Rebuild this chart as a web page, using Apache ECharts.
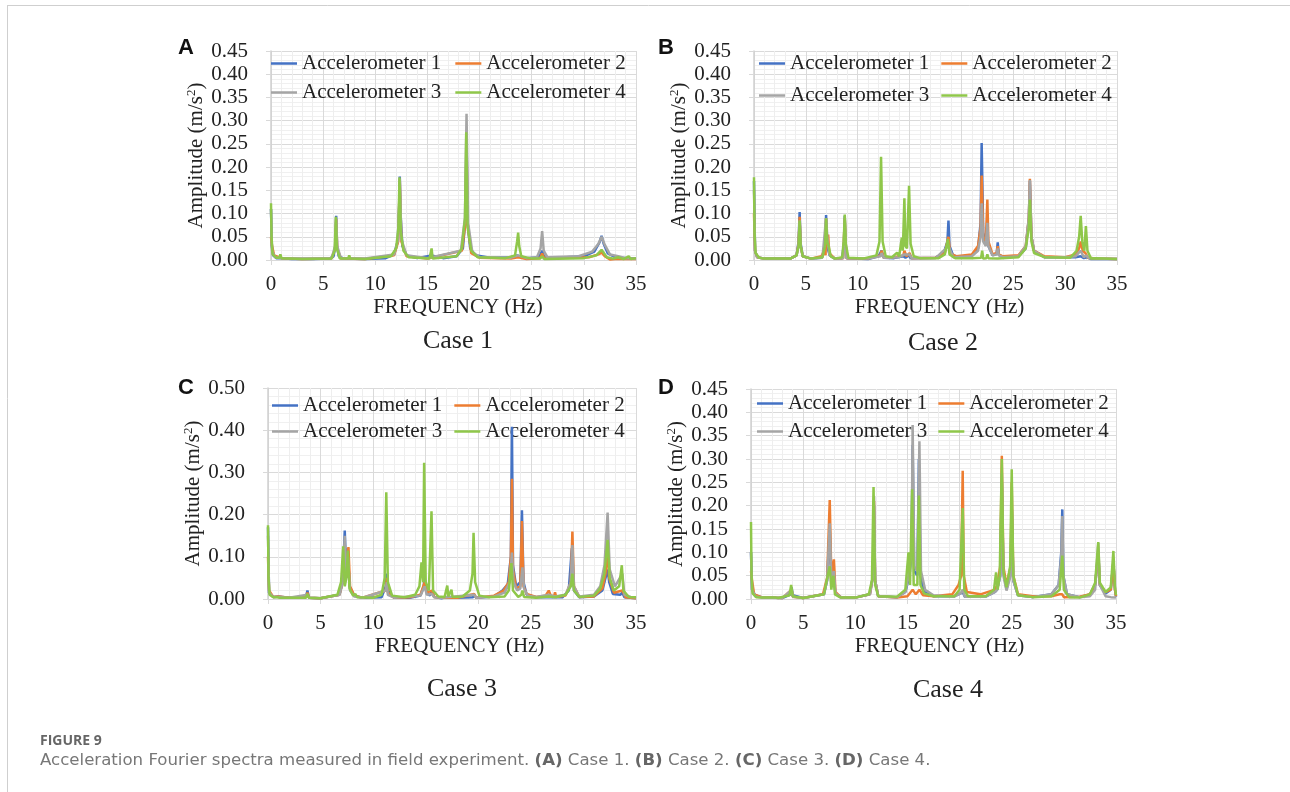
<!DOCTYPE html>
<html><head><meta charset="utf-8">
<script src="https://cdn.jsdelivr.net/npm/echarts@6/dist/echarts.min.js"></script>
<style>html,body{margin:0;padding:0;background:#fff}#c{width:1290px;height:792px}</style>
</head><body><div id="c"></div><script>
// ---------- data ----------
const seriesNames = ['Accelerometer 1', 'Accelerometer 2', 'Accelerometer 3', 'Accelerometer 4'];
const panelLabels = ['A', 'B', 'C', 'D'];
const caseTitles = ['Case 1', 'Case 2', 'Case 3', 'Case 4'];
const xTicks = [0, 5, 10, 15, 20, 25, 30, 35];
const yMaxes = [0.45, 0.45, 0.50, 0.45];
const yIntervals = [0.05, 0.05, 0.10, 0.05];

// Case 1
const a1 = [[0,0.11],[0.08,0.03],[0.2,0.01],[0.5,0.004],[1.0,0.004],[2,0.002],[4,0.002],[5.6,0.003],[6.0,0.008],[6.17,0.03],[6.25,0.095],[6.33,0.03],[6.5,0.008],[7,0.003],[9,0.002],[11,0.004],[11.8,0.012],[12.15,0.04],[12.3,0.12],[12.35,0.18],[12.42,0.1],[12.6,0.03],[13,0.01],[14,0.004],[15.4,0.01],[16.5,0.004],[17.8,0.008],[18.4,0.025],[18.65,0.09],[18.75,0.27],[18.85,0.08],[19.1,0.025],[19.6,0.01],[21,0.005],[23,0.006],[23.6,0.01],[23.7,0.012],[23.8,0.008],[24.5,0.004],[25.7,0.006],[26.0,0.02],[26.2,0.006],[27.5,0.005],[30,0.008],[31.0,0.018],[31.5,0.038],[31.7,0.052],[31.9,0.035],[32.3,0.014],[33,0.006],[33.3,0.005],[35,0.003]];
const a2 = [[0,0.05],[0.1,0.03],[0.3,0.01],[1,0.004],[3,0.002],[5.8,0.003],[6.15,0.025],[6.25,0.088],[6.35,0.025],[6.7,0.003],[9,0.002],[11.8,0.01],[12.2,0.04],[12.35,0.17],[12.5,0.04],[13,0.008],[15,0.003],[18.3,0.02],[18.65,0.08],[18.75,0.26],[18.85,0.08],[19.2,0.015],[20,0.005],[23,0.003],[23.7,0.006],[24.5,0.002],[25.8,0.004],[26.0,0.014],[26.2,0.004],[30.5,0.006],[31.4,0.012],[31.7,0.016],[32,0.008],[32.5,0.001],[33,0.002],[35,0.002]];
const a3 = [[0,0.11],[0.1,0.02],[0.4,0.006],[1,0.004],[3,0.003],[5.8,0.003],[6.15,0.03],[6.25,0.09],[6.35,0.03],[6.7,0.004],[9,0.003],[11.8,0.012],[12.2,0.045],[12.35,0.175],[12.5,0.045],[13,0.01],[15,0.004],[18.2,0.02],[18.6,0.09],[18.75,0.315],[18.9,0.08],[19.3,0.018],[20,0.006],[23,0.005],[23.7,0.01],[24.5,0.004],[25.5,0.006],[25.85,0.025],[26.0,0.062],[26.15,0.02],[26.5,0.006],[29.5,0.008],[30.8,0.018],[31.4,0.035],[31.7,0.05],[32,0.033],[32.5,0.012],[33.3,0.008],[34,0.004],[35,0.003]];
const a4 = [[0,0.122],[0.05,0.05],[0.15,0.012],[0.5,0.005],[0.8,0.005],[0.9,0.012],[1.0,0.004],[1.5,0.003],[1.6,0.007],[1.7,0.003],[3,0.002],[5.8,0.003],[6.1,0.02],[6.22,0.093],[6.32,0.025],[6.6,0.003],[7.4,0.003],[7.5,0.01],[7.6,0.003],[9,0.002],[11.5,0.008],[12.0,0.025],[12.22,0.07],[12.32,0.178],[12.45,0.06],[12.7,0.02],[13.2,0.006],[15.2,0.003],[15.4,0.025],[15.5,0.003],[17.8,0.008],[18.3,0.025],[18.6,0.09],[18.72,0.275],[18.85,0.07],[19.2,0.02],[19.8,0.006],[22.5,0.004],[23.4,0.01],[23.6,0.04],[23.7,0.059],[23.8,0.03],[24.0,0.008],[25,0.003],[25.8,0.003],[26.0,0.008],[26.2,0.002],[30,0.004],[31.2,0.01],[31.7,0.022],[32.2,0.006],[32.8,0.003],[33.3,0.006],[33.8,0.002],[34.3,0.008],[34.5,0.002],[35,0.004]];

// Case 2
const b1 = [[0,0.17],[0.1,0.02],[0.3,0.006],[1,0.003],[3.5,0.003],[4.1,0.01],[4.3,0.04],[4.4,0.103],[4.5,0.035],[4.7,0.008],[5.5,0.003],[6.5,0.005],[6.85,0.02],[6.95,0.097],[7.05,0.03],[7.3,0.01],[7.8,0.003],[8.5,0.004],[8.7,0.04],[8.75,0.095],[8.8,0.04],[9,0.004],[11,0.002],[12,0.008],[12.3,0.02],[12.5,0.005],[13.5,0.004],[14.4,0.008],[14.5,0.012],[14.6,0.005],[14.95,0.01],[15.1,0.004],[17.5,0.005],[18.3,0.015],[18.65,0.04],[18.75,0.085],[18.85,0.03],[19.2,0.01],[20,0.006],[21,0.01],[21.6,0.025],[21.85,0.08],[21.95,0.252],[22.1,0.06],[22.3,0.035],[22.5,0.06],[22.6,0.03],[23,0.01],[23.4,0.015],[23.5,0.038],[23.6,0.012],[24,0.006],[25.5,0.008],[26.2,0.025],[26.5,0.09],[26.6,0.17],[26.75,0.05],[27,0.02],[28,0.006],[29,0.006],[31,0.006],[31.5,0.008],[31.8,0.004],[32.1,0.006],[32.5,0.002],[35,0.002]];
const b2 = [[0,0.1],[0.1,0.02],[0.3,0.006],[1,0.003],[3.5,0.003],[4.1,0.01],[4.3,0.035],[4.4,0.093],[4.5,0.03],[4.7,0.008],[5.5,0.003],[6.5,0.008],[6.8,0.022],[6.9,0.01],[6.95,0.09],[7.05,0.03],[7.15,0.055],[7.25,0.015],[7.8,0.003],[8.6,0.004],[8.75,0.09],[8.9,0.004],[11,0.003],[12.2,0.01],[12.3,0.02],[12.5,0.005],[13.5,0.006],[14.4,0.01],[14.5,0.02],[14.7,0.008],[15,0.015],[15.2,0.004],[17.5,0.005],[18.4,0.015],[18.75,0.05],[18.9,0.015],[19.5,0.008],[21,0.012],[21.6,0.03],[21.85,0.07],[21.95,0.182],[22.1,0.05],[22.35,0.04],[22.5,0.13],[22.6,0.04],[23,0.012],[23.4,0.015],[23.5,0.03],[23.6,0.012],[24,0.008],[25.5,0.01],[26.2,0.03],[26.5,0.09],[26.6,0.175],[26.75,0.05],[27,0.02],[28,0.008],[30,0.006],[31,0.012],[31.35,0.025],[31.5,0.04],[31.7,0.02],[31.95,0.015],[32.2,0.005],[33,0.003],[35,0.002]];
const b3 = [[0,0.15],[0.1,0.02],[0.3,0.006],[1,0.003],[3.5,0.003],[4.1,0.01],[4.3,0.03],[4.4,0.085],[4.5,0.03],[4.7,0.008],[5.5,0.003],[6.6,0.005],[6.95,0.09],[7.1,0.04],[7.3,0.01],[7.8,0.003],[8.6,0.004],[8.75,0.09],[8.9,0.004],[11,0.003],[12.2,0.008],[12.3,0.015],[12.5,0.005],[14,0.006],[14.5,0.012],[15,0.012],[15.2,0.004],[17.5,0.004],[18.75,0.03],[19.2,0.006],[21,0.008],[21.6,0.02],[21.85,0.05],[21.95,0.122],[22.1,0.04],[22.35,0.03],[22.5,0.08],[22.6,0.03],[23,0.01],[23.4,0.012],[23.5,0.025],[23.6,0.01],[24,0.006],[25.5,0.008],[26.2,0.03],[26.5,0.09],[26.6,0.172],[26.75,0.05],[27,0.02],[28,0.006],[30,0.006],[31,0.008],[31.5,0.02],[31.8,0.006],[32,0.01],[32.3,0.004],[35,0.002]];
const b4 = [[0,0.178],[0.05,0.06],[0.15,0.015],[0.5,0.005],[1,0.003],[3.5,0.003],[4.1,0.01],[4.3,0.03],[4.4,0.085],[4.5,0.03],[4.7,0.008],[5.5,0.003],[6.6,0.006],[6.85,0.03],[6.95,0.09],[7.05,0.04],[7.2,0.03],[7.4,0.008],[7.8,0.003],[8.5,0.006],[8.65,0.04],[8.75,0.098],[8.85,0.035],[9.1,0.005],[10.5,0.003],[11.8,0.01],[12.1,0.04],[12.25,0.222],[12.4,0.04],[12.7,0.008],[13.3,0.006],[13.8,0.016],[14.0,0.008],[14.25,0.048],[14.35,0.02],[14.5,0.133],[14.6,0.03],[14.75,0.025],[14.95,0.16],[15.1,0.035],[15.4,0.008],[16,0.004],[17.8,0.004],[18.4,0.012],[18.7,0.045],[18.85,0.012],[19.4,0.004],[21,0.004],[21.9,0.005],[22.0,0.02],[22.1,0.003],[22.4,0.004],[22.5,0.012],[22.6,0.004],[23.5,0.003],[25.5,0.006],[26.2,0.025],[26.5,0.07],[26.6,0.13],[26.75,0.04],[27,0.015],[28,0.006],[30.5,0.005],[31.1,0.02],[31.35,0.05],[31.5,0.095],[31.65,0.04],[31.85,0.02],[32.0,0.073],[32.15,0.02],[32.5,0.003],[33,0.004],[35,0.002]];

// Case 3
const c1 = [[0,0.17],[0.1,0.015],[0.5,0.005],[1,0.006],[2,0.003],[3.6,0.004],[3.75,0.02],[3.9,0.003],[5,0.002],[6.8,0.01],[7.1,0.04],[7.3,0.162],[7.45,0.05],[7.6,0.12],[7.75,0.03],[8.2,0.008],[9,0.003],[10.8,0.004],[11.2,0.03],[11.3,0.06],[11.4,0.02],[12,0.003],[13.5,0.003],[14.5,0.008],[14.8,0.03],[14.9,0.05],[15.1,0.015],[15.4,0.008],[15.6,0.02],[15.8,0.005],[16.5,0.002],[17.1,0.005],[18,0.003],[19.5,0.004],[19.6,0.01],[19.8,0.003],[21.5,0.006],[22.3,0.02],[22.8,0.035],[23.1,0.1],[23.2,0.408],[23.3,0.08],[23.6,0.03],[24.0,0.04],[24.15,0.21],[24.3,0.04],[24.6,0.01],[25.5,0.004],[26.7,0.005],[28,0.004],[28.6,0.02],[28.9,0.12],[29.1,0.02],[29.6,0.004],[31,0.006],[31.8,0.02],[32.2,0.06],[32.3,0.07],[32.45,0.04],[32.8,0.012],[33.5,0.01],[33.7,0.015],[33.9,0.004],[35,0.002]];
const c2 = [[0,0.1],[0.1,0.02],[0.5,0.005],[1,0.006],[2,0.003],[3.6,0.004],[3.75,0.015],[3.9,0.003],[5,0.002],[6.8,0.01],[7.1,0.04],[7.3,0.13],[7.45,0.05],[7.65,0.123],[7.8,0.03],[8.2,0.008],[9,0.003],[11.2,0.02],[11.3,0.05],[11.4,0.015],[12,0.003],[13.5,0.004],[14.5,0.01],[14.9,0.04],[15.1,0.015],[15.6,0.02],[15.8,0.005],[16.5,0.003],[18,0.003],[19.6,0.012],[19.8,0.003],[21.5,0.008],[22.4,0.02],[22.9,0.04],[23.1,0.1],[23.2,0.285],[23.3,0.07],[23.6,0.025],[24.0,0.03],[24.15,0.185],[24.3,0.03],[24.6,0.012],[25.5,0.005],[26.4,0.008],[26.7,0.02],[26.9,0.008],[27.2,0.006],[27.3,0.016],[27.4,0.005],[28.3,0.008],[28.8,0.04],[28.95,0.16],[29.1,0.03],[29.6,0.005],[31,0.006],[31.8,0.025],[32.1,0.06],[32.3,0.12],[32.45,0.05],[32.9,0.015],[33.7,0.02],[34,0.004],[35,0.002]];
const c3 = [[0,0.15],[0.1,0.015],[0.5,0.005],[1,0.005],[2,0.003],[3.75,0.01],[3.9,0.003],[5,0.002],[6.8,0.01],[7.1,0.04],[7.3,0.15],[7.45,0.05],[7.6,0.1],[7.8,0.02],[8.2,0.006],[9,0.003],[11.2,0.02],[11.3,0.04],[11.4,0.01],[12,0.003],[14.5,0.008],[14.9,0.03],[15.1,0.01],[15.6,0.012],[15.8,0.004],[16.5,0.003],[19.6,0.01],[19.8,0.003],[21.5,0.006],[22.5,0.015],[23.0,0.04],[23.2,0.11],[23.35,0.04],[23.7,0.02],[24.0,0.025],[24.2,0.075],[24.35,0.025],[24.7,0.008],[25.5,0.005],[26.7,0.01],[27.3,0.006],[28.3,0.01],[28.8,0.04],[28.95,0.128],[29.1,0.03],[29.6,0.006],[31,0.01],[31.6,0.03],[32.0,0.08],[32.3,0.205],[32.5,0.07],[33,0.03],[33.7,0.06],[33.9,0.01],[34.5,0.005],[35,0.004]];
const c4 = [[0,0.175],[0.05,0.05],[0.15,0.01],[0.5,0.004],[0.9,0.004],[1.0,0.008],[1.1,0.003],[2,0.003],[3.6,0.003],[3.75,0.012],[3.9,0.003],[5,0.002],[6.6,0.01],[6.95,0.04],[7.15,0.125],[7.3,0.03],[7.45,0.05],[7.6,0.115],[7.75,0.025],[8.1,0.008],[8.3,0.012],[8.5,0.004],[10,0.003],[10.8,0.01],[11.1,0.05],[11.25,0.253],[11.4,0.04],[11.8,0.008],[13,0.004],[14.0,0.01],[14.4,0.03],[14.6,0.087],[14.75,0.04],[14.85,0.323],[15.0,0.04],[15.3,0.02],[15.55,0.208],[15.7,0.02],[16.2,0.006],[16.8,0.005],[17.05,0.032],[17.15,0.006],[17.3,0.005],[17.45,0.022],[17.55,0.005],[18.5,0.006],[19.2,0.02],[19.45,0.06],[19.55,0.157],[19.7,0.04],[20.1,0.008],[21,0.004],[22.5,0.006],[22.9,0.02],[23.15,0.085],[23.3,0.02],[23.8,0.005],[24.1,0.01],[24.2,0.02],[24.35,0.005],[25.5,0.003],[26.7,0.006],[27.3,0.004],[28.3,0.01],[28.8,0.03],[28.95,0.06],[29.1,0.02],[29.6,0.005],[31,0.008],[31.6,0.025],[32.0,0.06],[32.3,0.14],[32.5,0.05],[32.9,0.02],[33.4,0.03],[33.65,0.08],[33.8,0.02],[34.3,0.005],[35,0.004]];

// Case 4
const d1 = [[0,0.1],[0.1,0.02],[0.4,0.008],[1,0.004],[3,0.002],[3.8,0.01],[3.9,0.025],[4.0,0.008],[5,0.002],[7.0,0.01],[7.3,0.04],[7.55,0.15],[7.7,0.04],[7.9,0.05],[8.1,0.012],[8.6,0.004],[10,0.003],[11.4,0.01],[11.7,0.05],[11.8,0.2],[11.9,0.04],[12.2,0.006],[14,0.004],[14.8,0.015],[15.2,0.05],[15.4,0.1],[15.5,0.33],[15.65,0.06],[15.95,0.05],[16.1,0.3],[16.25,0.05],[16.6,0.015],[17.5,0.006],[19.5,0.006],[20.1,0.012],[20.3,0.015],[20.5,0.005],[22.5,0.005],[23.4,0.015],[23.6,0.02],[23.9,0.05],[24.05,0.25],[24.2,0.06],[24.5,0.02],[24.9,0.06],[25.0,0.2],[25.15,0.04],[25.6,0.008],[27,0.004],[28.8,0.01],[29.5,0.03],[29.75,0.1],[29.85,0.192],[29.95,0.05],[30.3,0.01],[31.5,0.004],[32.5,0.01],[33.0,0.03],[33.3,0.1],[33.45,0.03],[34,0.012],[34.5,0.02],[34.75,0.08],[34.9,0.02],[35,0.005]];
const d2 = [[0,0.06],[0.1,0.04],[0.3,0.01],[1,0.004],[3,0.002],[3.9,0.02],[4.0,0.005],[5,0.002],[6.9,0.01],[7.3,0.045],[7.55,0.212],[7.7,0.05],[7.95,0.085],[8.1,0.015],[8.6,0.004],[10,0.003],[11.4,0.01],[11.7,0.05],[11.8,0.21],[11.9,0.04],[12.2,0.006],[14,0.003],[15.0,0.006],[15.5,0.02],[15.8,0.01],[16.15,0.02],[16.5,0.008],[17.5,0.006],[19.3,0.01],[19.9,0.03],[20.15,0.05],[20.3,0.275],[20.4,0.05],[20.7,0.015],[22,0.01],[23.4,0.02],[23.6,0.03],[23.9,0.07],[24.05,0.307],[24.2,0.07],[24.5,0.03],[24.9,0.07],[25.0,0.25],[25.15,0.05],[25.6,0.01],[27,0.006],[28.8,0.006],[29.6,0.01],[29.85,0.01],[30,0.004],[31.5,0.005],[32.5,0.01],[33.0,0.03],[33.3,0.1],[33.45,0.03],[34,0.015],[34.5,0.02],[34.75,0.08],[34.9,0.02],[35,0.006]];
const d3 = [[0,0.1],[0.1,0.02],[0.4,0.006],[1,0.003],[3,0.002],[3.9,0.02],[4.0,0.005],[5,0.002],[7.0,0.01],[7.3,0.04],[7.55,0.162],[7.7,0.04],[7.95,0.06],[8.1,0.012],[8.6,0.004],[10,0.003],[11.4,0.01],[11.7,0.05],[11.8,0.22],[11.9,0.04],[12.2,0.006],[14,0.004],[14.8,0.015],[15.2,0.06],[15.4,0.1],[15.5,0.373],[15.65,0.07],[15.95,0.06],[16.15,0.338],[16.3,0.06],[16.7,0.02],[17.5,0.008],[19.5,0.005],[20.1,0.012],[20.3,0.02],[20.5,0.005],[22.5,0.005],[23.4,0.015],[23.6,0.02],[23.9,0.05],[24.05,0.27],[24.2,0.05],[24.5,0.018],[24.9,0.05],[25.0,0.2],[25.15,0.04],[25.6,0.008],[27,0.004],[28.8,0.01],[29.5,0.03],[29.75,0.09],[29.85,0.178],[29.95,0.05],[30.3,0.01],[31.5,0.004],[32.5,0.006],[33.0,0.02],[33.3,0.12],[33.45,0.03],[34,0.006],[34.5,0.004],[35,0.003]];
const d4 = [[0,0.165],[0.05,0.05],[0.15,0.012],[0.5,0.004],[1,0.003],[2.4,0.003],[2.5,0.006],[2.6,0.002],[3.7,0.008],[3.85,0.03],[4.0,0.006],[5,0.002],[7.0,0.01],[7.35,0.05],[7.55,0.07],[7.7,0.02],[7.9,0.05],[8.05,0.01],[8.6,0.003],[10,0.003],[11.3,0.01],[11.6,0.04],[11.75,0.24],[11.9,0.03],[12.2,0.006],[14,0.005],[14.8,0.02],[15.1,0.1],[15.25,0.03],[15.45,0.235],[15.6,0.03],[15.95,0.03],[16.1,0.222],[16.25,0.03],[16.6,0.012],[17.5,0.006],[19.5,0.006],[20.0,0.02],[20.3,0.195],[20.45,0.02],[20.8,0.006],[22.5,0.006],[23.3,0.02],[23.5,0.057],[23.65,0.02],[23.85,0.05],[24.05,0.3],[24.2,0.06],[24.5,0.025],[24.85,0.07],[25.0,0.278],[25.15,0.05],[25.6,0.008],[27,0.004],[28.8,0.006],[29.6,0.02],[29.85,0.093],[30.0,0.02],[30.5,0.004],[31.5,0.003],[32.5,0.01],[33.0,0.035],[33.3,0.122],[33.45,0.035],[34,0.015],[34.5,0.025],[34.75,0.103],[34.9,0.025],[35,0.008]];

const panels = [[a1,a2,a3,a4],[b1,b2,b3,b4],[c1,c2,c3,c4],[d1,d2,d3,d4]];

// ---------- styles / layout ----------
const colors = ['#4472C4', '#ED7D31', '#A5A5A5', '#8FC74A'];
const SERIF = '"Liberation Serif","Times New Roman",serif';
const gridBoxes = [
  {left: 271, top: 51, width: 365, height: 209},
  {left: 754, top: 51, width: 363, height: 209},
  {left: 268, top: 388, width: 368, height: 211},
  {left: 751, top: 389, width: 365, height: 210}
];
const xNamePad = [9, 8, 15, 12];
const legendPos = [
  {left: 271, rows: [53, 82], gap: 14},
  {left: 759, rows: [53, 85], gap: 12},
  {left: 272, rows: [395, 421], gap: 12},
  {left: 757, rows: [393, 421], gap: 11}
];
const panelLabelPos = [[186, 48], [666, 48], [186, 388], [666, 388]];
const casePos = [[458, 341], [943, 343], [462, 689], [948, 690]];

const grid = [], xAxis = [], yAxis = [], series = [], legend = [], graphic = [];
panels.forEach((pdata, p) => {
  grid.push(Object.assign({outerBoundsMode: 'none', containLabel: false}, gridBoxes[p]));
  xAxis.push({
    type: 'value', gridIndex: p, min: xTicks[0], max: xTicks[xTicks.length - 1], interval: 5,
    axisLine: {show: true, onZero: false, lineStyle: {color: '#d9d9d9', width: 1}},
    axisTick: {show: true, length: 5, lineStyle: {color: '#d9d9d9'}},
    axisLabel: {color: '#222', fontFamily: SERIF, fontSize: 21, margin: 14},
    splitLine: {show: true, lineStyle: {color: '#dadada', width: 1}},
    minorTick: {show: false, splitNumber: 5},
    minorSplitLine: {show: true, lineStyle: {color: '#eeeeee', width: 1}},
    name: 'FREQUENCY (Hz)', nameLocation: 'middle', nameGap: 37,
    nameTextStyle: {color: '#222', fontFamily: SERIF, fontSize: 21, padding: [0, 0, 0, xNamePad[p]]}
  });
  yAxis.push({
    type: 'value', gridIndex: p, min: 0, max: yMaxes[p], interval: yIntervals[p],
    axisLine: {show: true, lineStyle: {color: '#d0d0d0', width: 1.5}},
    axisTick: {show: true, length: 5, lineStyle: {color: '#d9d9d9'}},
    axisLabel: {color: '#222', fontFamily: SERIF, fontSize: 21, margin: 23,
      formatter: v => v.toFixed(2)},
    splitLine: {show: true, lineStyle: {color: '#dadada', width: 1}},
    minorTick: {show: false, splitNumber: 5},
    minorSplitLine: {show: true, lineStyle: {color: '#f0f0f0', width: 1}},
    name: 'Amplitude (m/s{sup|2})', nameLocation: 'middle', nameGap: 64,
    nameTextStyle: {color: '#222', fontFamily: SERIF, fontSize: 21,
      rich: {sup: {fontFamily: SERIF, fontSize: 13, color: '#222', verticalAlign: 'top', padding: [0, 0, 9, 0]}}}
  });
  pdata.forEach((d, s) => {
    series.push({
      type: 'line', name: seriesNames[s], xAxisIndex: p, yAxisIndex: p, data: d,
      symbol: 'none', showSymbol: false, smooth: false, animation: false, z: 3,
      lineStyle: {color: colors[s], width: 2.5}, itemStyle: {color: colors[s]}
    });
  });
  const lp = legendPos[p];
  [[0, 1], [2, 3]].forEach((pair, r) => {
    legend.push({
      left: lp.left, top: lp.rows[r], orient: 'horizontal', padding: 0, z: 1,
      icon: 'rect', itemWidth: 26, itemHeight: 2.5, itemGap: lp.gap, selectedMode: false,
      data: pair.map(i => seriesNames[i]),
      textStyle: {color: '#222', fontFamily: SERIF, fontSize: 21}
    });
  });
  graphic.push({type: 'text', x: panelLabelPos[p][0], y: panelLabelPos[p][1],
    style: {text: panelLabels[p], font: 'bold 22px "Liberation Sans", Arial, sans-serif', fill: '#111',
      textAlign: 'center', textVerticalAlign: 'middle'}});
  graphic.push({type: 'text', x: casePos[p][0], y: casePos[p][1],
    style: {text: caseTitles[p], font: '26px "Liberation Serif", "Times New Roman", serif', fill: '#222',
      textAlign: 'center', textVerticalAlign: 'middle'}});
});

// frame lines and caption
graphic.push({type: 'line', shape: {x1: 7, y1: 5.5, x2: 1290, y2: 5.5}, style: {stroke: '#cfcfcf', lineWidth: 1}});
graphic.push({type: 'line', shape: {x1: 7.5, y1: 5, x2: 7.5, y2: 792}, style: {stroke: '#cfcfcf', lineWidth: 1}});
graphic.push({type: 'text', x: 40, y: 741,
  style: {text: 'FIGURE 9', font: 'bold 14px "Open Sans", "Noto Sans", sans-serif', fill: '#666', textVerticalAlign: 'middle'}});
graphic.push({type: 'text', x: 40, y: 761,
  style: {
    text: 'Acceleration Fourier spectra measured in field experiment. {b|(A)} Case 1. {b|(B)} Case 2. {b|(C)} Case 3. {b|(D)} Case 4.',
    font: '16.6px "DejaVu Sans", sans-serif', fill: '#777', textVerticalAlign: 'middle',
    rich: {b: {fontWeight: 'bold', fontFamily: '"DejaVu Sans", sans-serif', fontSize: 16.6, fill: '#666'}}
  }});

const chart = echarts.init(document.getElementById('c'), null, {renderer: 'canvas'});
chart.setOption({
  backgroundColor: '#fff', animation: false,
  grid, xAxis, yAxis, series, legend, graphic
});
</script></body></html>
